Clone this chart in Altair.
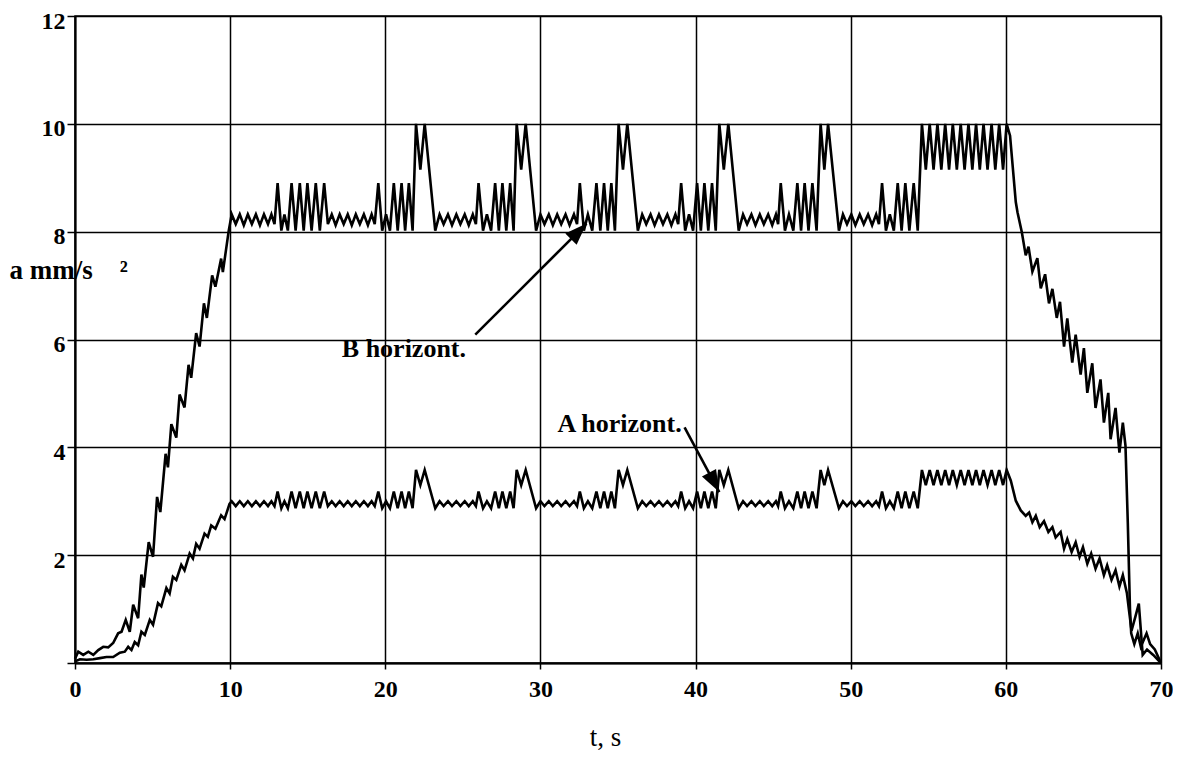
import altair as alt
import pandas as pd

# ---------------- data ----------------
# B horizont. : rising part
b_rise_t = [0.00, 0.21, 0.53, 0.86, 1.18, 1.50, 1.82, 2.14, 2.46, 2.78, 3.00, 3.27, 3.53,
            3.75, 4.07, 4.28, 4.43, 4.75, 5.03, 5.29, 5.50, 5.84, 5.99, 6.21, 6.53, 6.74,
            7.06, 7.32, 7.49, 7.81, 8.03, 8.31, 8.50, 8.84, 9.05, 9.42, 9.53, 9.91]
b_rise = [0.08, 0.21, 0.15, 0.21, 0.15, 0.24, 0.30, 0.29, 0.37, 0.55, 0.58, 0.80, 0.58,
          1.08, 0.83, 1.64, 1.40, 2.24, 1.97, 3.08, 2.80, 3.88, 3.63, 4.43, 4.18, 4.98,
          4.74, 5.53, 5.29, 6.12, 5.87, 6.67, 6.40, 7.19, 6.98, 7.50, 7.25, 8.02]

# A horizont. : rising part
a_rise_t = [0.00, 0.32, 0.75, 1.18, 1.61, 2.03, 2.46, 2.89, 3.21, 3.43, 3.64, 3.85, 4.07,
            4.28, 4.50, 4.82, 5.03, 5.35, 5.56, 5.89, 6.10, 6.31, 6.53, 6.85, 7.06, 7.39,
            7.60, 7.81, 8.03, 8.35, 8.56, 8.78, 9.05, 9.42, 9.64, 9.96]
a_rise = [0.03, 0.07, 0.06, 0.07, 0.09, 0.11, 0.11, 0.19, 0.21, 0.30, 0.24, 0.39, 0.33,
          0.58, 0.52, 0.80, 0.71, 1.11, 1.05, 1.39, 1.29, 1.60, 1.54, 1.82, 1.72, 2.03,
          1.94, 2.21, 2.12, 2.40, 2.34, 2.55, 2.49, 2.74, 2.67, 2.95]

# shared vertex times of the plateau (10 s .. 60 s)
plateau_t = [
    10.10, 10.36, 10.62, 10.88, 11.14, 11.40, 11.66, 11.92, 12.18, 12.44, 12.66, 12.86,
    13.06, 13.30, 13.50, 13.72, 13.96, 14.22, 14.49, 14.74, 14.98, 15.25, 15.52, 15.78, 16.06,
    16.30, 16.55, 16.80, 17.06, 17.32, 17.58, 17.84, 18.10, 18.36, 18.62, 18.88, 19.12, 19.32,
    19.55, 19.80, 20.05, 20.30, 20.55, 20.80, 21.05, 21.28, 21.52, 21.76, 21.98, 22.26, 22.54, 23.22,
    23.50, 23.76, 24.04, 24.30, 24.58, 24.84, 25.12, 25.38, 25.64, 25.84,
    26.01, 26.30, 26.55, 26.82, 27.08, 27.32, 27.55, 27.80, 28.05, 28.27, 28.47, 28.76, 29.05, 29.72,
    30.00, 30.26, 30.54, 30.80, 31.08, 31.34, 31.62, 31.88, 32.16, 32.36,
    32.54, 32.80, 33.06, 33.34, 33.61, 33.86, 34.10, 34.34, 34.57, 34.80, 35.04, 35.32, 35.60, 36.28,
    36.56, 36.82, 37.10, 37.36, 37.64, 37.90, 38.18, 38.44, 38.70, 38.88,
    39.07, 39.33, 39.58, 39.84, 40.10, 40.34, 40.57, 40.82, 41.06, 41.30, 41.53, 41.82, 42.11, 42.78,
    43.06, 43.32, 43.60, 43.86, 44.14, 44.40, 44.68, 44.94, 45.18, 45.32,
    45.49, 45.76, 46.02, 46.30, 46.56, 46.80, 47.03, 47.28, 47.53, 47.80, 48.06, 48.30, 48.54, 49.24,
    49.50, 49.76, 50.04, 50.30, 50.58, 50.84, 51.12, 51.38, 51.64, 51.82,
    52.02, 52.27, 52.52, 52.78, 53.03, 53.28, 53.52, 53.78, 54.06, 54.32,
    54.59, 54.84, 55.09, 55.34, 55.59, 55.84, 56.09, 56.34, 56.58, 56.84, 57.09, 57.34,
    57.59, 57.84, 58.08, 58.32, 58.56, 58.82, 59.08, 59.32, 59.57, 59.82, 60.05,
]

b_plateau = [
    8.32, 8.14, 8.32, 8.12, 8.32, 8.14, 8.32, 8.12, 8.32, 8.14, 8.32, 8.14,
    8.90, 8.02, 8.32, 8.02, 8.90, 8.02, 8.90, 8.02, 8.90, 8.02, 8.90, 8.02, 8.90,
    8.14, 8.32, 8.12, 8.32, 8.14, 8.32, 8.12, 8.32, 8.14, 8.32, 8.12, 8.32, 8.14,
    8.90, 8.02, 8.32, 8.02, 8.90, 8.02, 8.90, 8.02, 8.90, 8.02, 10.0, 9.15, 10.0, 8.02,
    8.32, 8.14, 8.32, 8.12, 8.32, 8.14, 8.32, 8.12, 8.32, 8.14,
    8.90, 8.02, 8.32, 8.02, 8.90, 8.02, 8.90, 8.02, 8.90, 8.02, 10.0, 9.15, 10.0, 8.02,
    8.32, 8.14, 8.32, 8.12, 8.32, 8.14, 8.32, 8.12, 8.32, 8.14,
    8.90, 8.02, 8.32, 8.02, 8.90, 8.02, 8.90, 8.02, 8.90, 8.02, 10.0, 9.15, 10.0, 8.02,
    8.32, 8.14, 8.32, 8.12, 8.32, 8.14, 8.32, 8.12, 8.32, 8.14,
    8.90, 8.02, 8.32, 8.02, 8.90, 8.02, 8.90, 8.02, 8.90, 8.02, 10.0, 9.15, 10.0, 8.02,
    8.32, 8.14, 8.32, 8.12, 8.32, 8.14, 8.32, 8.12, 8.32, 8.14,
    8.90, 8.02, 8.32, 8.02, 8.90, 8.02, 8.90, 8.02, 8.90, 8.02, 10.0, 9.15, 10.0, 8.02,
    8.32, 8.14, 8.32, 8.12, 8.32, 8.14, 8.32, 8.12, 8.32, 8.14,
    8.90, 8.02, 8.32, 8.02, 8.90, 8.02, 8.90, 8.02, 8.90, 8.02,
    10.0, 9.15, 10.0, 9.15, 10.0, 9.15, 10.0, 9.15, 10.0, 9.15, 10.0, 9.15,
    10.0, 9.15, 10.0, 9.15, 10.0, 9.15, 10.0, 9.15, 10.0, 9.15, 10.0,
]

a_plateau = [
    3.00, 2.91, 3.00, 2.91, 3.00, 2.91, 3.00, 2.91, 3.00, 2.91, 3.00, 2.91,
    3.18, 2.87, 3.00, 2.87, 3.18, 2.87, 3.18, 2.87, 3.18, 2.87, 3.18, 2.87, 3.18,
    2.91, 3.00, 2.91, 3.00, 2.91, 3.00, 2.91, 3.00, 2.91, 3.00, 2.91, 3.00, 2.91,
    3.18, 2.87, 3.00, 2.87, 3.18, 2.87, 3.18, 2.87, 3.18, 2.87, 3.58, 3.30, 3.58, 2.87,
    3.00, 2.91, 3.00, 2.91, 3.00, 2.91, 3.00, 2.91, 3.00, 2.91,
    3.18, 2.87, 3.00, 2.87, 3.18, 2.87, 3.18, 2.87, 3.18, 2.87, 3.58, 3.30, 3.58, 2.87,
    3.00, 2.91, 3.00, 2.91, 3.00, 2.91, 3.00, 2.91, 3.00, 2.91,
    3.18, 2.87, 3.00, 2.87, 3.18, 2.87, 3.18, 2.87, 3.18, 2.87, 3.58, 3.30, 3.58, 2.87,
    3.00, 2.91, 3.00, 2.91, 3.00, 2.91, 3.00, 2.91, 3.00, 2.91,
    3.18, 2.87, 3.00, 2.87, 3.18, 2.87, 3.18, 2.87, 3.18, 2.87, 3.58, 3.30, 3.58, 2.87,
    3.00, 2.91, 3.00, 2.91, 3.00, 2.91, 3.00, 2.91, 3.00, 2.91,
    3.18, 2.87, 3.00, 2.87, 3.18, 2.87, 3.18, 2.87, 3.18, 2.87, 3.58, 3.30, 3.58, 2.87,
    3.00, 2.91, 3.00, 2.91, 3.00, 2.91, 3.00, 2.91, 3.00, 2.91,
    3.18, 2.87, 3.00, 2.87, 3.18, 2.87, 3.18, 2.87, 3.18, 2.87,
    3.58, 3.30, 3.58, 3.30, 3.58, 3.30, 3.58, 3.30, 3.58, 3.30, 3.58, 3.30,
    3.58, 3.30, 3.58, 3.30, 3.58, 3.30, 3.58, 3.30, 3.58, 3.30, 3.58,
]

# falling parts
b_fall_t = [60.27, 60.64, 60.75, 61.03, 61.28, 61.46, 61.71, 62.03, 62.25, 62.53, 62.78,
            63.00, 63.28, 63.49, 63.75, 63.96, 64.28, 64.50, 64.82, 65.03, 65.25, 65.57,
            65.78, 66.10, 66.32, 66.60, 66.75, 67.07, 67.32, 67.54, 67.71, 67.86, 68.00,
            68.08, 68.28, 68.50, 68.70, 69.07, 69.30, 69.60, 70.00]
b_fall = [9.78, 8.55, 8.36, 7.99, 7.56, 7.72, 7.26, 7.51, 6.95, 7.21, 6.67,
          6.94, 6.40, 6.70, 5.87, 6.39, 5.57, 6.09, 5.35, 5.84, 5.01, 5.56,
          4.73, 5.26, 4.46, 5.01, 4.15, 4.73, 3.90, 4.46, 4.03, 2.60, 1.00,
          0.55, 0.35, 0.55, 0.30, 0.55, 0.35, 0.25, 0.00]

a_fall_t = [60.32, 60.64, 60.96, 61.28, 61.50, 61.71, 61.93, 62.18, 62.46, 62.74, 63.00,
            63.21, 63.53, 63.75, 63.96, 64.24, 64.50, 64.75, 64.97, 65.25, 65.50, 65.78,
            66.04, 66.32, 66.53, 66.81, 67.07, 67.32, 67.54, 67.80, 67.95, 68.10, 68.35,
            68.57, 68.82, 69.10, 69.50, 70.00]
a_fall = [3.38, 3.01, 2.83, 2.73, 2.79, 2.61, 2.73, 2.52, 2.63, 2.43, 2.52,
          2.33, 2.43, 2.12, 2.30, 2.06, 2.24, 1.97, 2.15, 1.84, 2.03, 1.75,
          1.94, 1.63, 1.81, 1.54, 1.72, 1.42, 1.63, 1.30, 0.95, 0.60, 0.86,
          1.10, 0.15, 0.25, 0.15, 0.00]

# annotations
label_text = ["B horizont.", "A horizont."]
label_t = [21.2, 35.1]
label_a = [5.82, 4.43]
arrow_t0 = [25.8, 39.29]
arrow_a0 = [6.09, 4.37]
arrow_t1 = [32.97, 41.53]
arrow_a1 = [8.15, 3.17]
arrow_angle = [45, 152]

x_ticks = [0, 10, 20, 30, 40, 50, 60, 70]
y_ticks = [0, 2, 4, 6, 8, 10, 12]

# ---------------- build tables ----------------
assert len(plateau_t) == len(b_plateau) == len(a_plateau)
b_t = b_rise_t + plateau_t + b_fall_t
b_v = b_rise + b_plateau + b_fall
a_t = a_rise_t + plateau_t + a_fall_t
a_v = a_rise + a_plateau + a_fall

lines_df = pd.concat([
    pd.DataFrame({"series": "B", "t": b_t, "a": b_v}),
    pd.DataFrame({"series": "A", "t": a_t, "a": a_v}),
], ignore_index=True)
lines_df["i"] = range(len(lines_df))

labels_df = pd.DataFrame({"txt": label_text, "t": label_t, "a": label_a})
arrows_df = pd.DataFrame({"t": arrow_t0, "a": arrow_a0, "t2": arrow_t1, "a2": arrow_a1})
heads_df = pd.DataFrame({"t": arrow_t1, "a": arrow_a1, "ang": arrow_angle})

SERIF = "Liberation Serif"

x_enc = alt.X(
    "t:Q",
    scale=alt.Scale(domain=[0, 70], nice=False, zero=False),
    axis=alt.Axis(
        values=x_ticks, title="t, s", grid=True,
        labelFont=SERIF, labelFontSize=24, labelFontWeight="bold", labelColor="black",
        labelPadding=8, labelFlush=False,
        tickSize=6, tickColor="black", tickWidth=1.5,
        titleFont=SERIF, titleFontSize=27, titleFontWeight="normal", titleColor="black",
        titleX=530, titleY=74, titleAlign="center", titleBaseline="middle",
    ),
)
y_enc = alt.Y(
    "a:Q",
    scale=alt.Scale(domain=[0, 12], nice=False),
    axis=alt.Axis(
        values=y_ticks, title="a mm/s\u2003²", grid=True,
        labelExpr="datum.value == 0 ? '' : datum.label",
        labelFont=SERIF, labelFontSize=24, labelFontWeight="bold", labelColor="black",
        labelPadding=2, labelFlush=False, labelOffset=5,
        tickSize=8, tickColor="black", tickWidth=1.5,
        titleFont=SERIF, titleFontSize=27, titleFontWeight="bold", titleColor="black",
        titleAngle=0, titleX=-66, titleY=254, titleAlign="left", titleBaseline="middle",
    ),
)

lines = alt.Chart(lines_df).mark_line(color="black", strokeWidth=2.6).encode(
    x=x_enc, y=y_enc, detail="series:N", order="i:Q"
)

rules = alt.Chart(arrows_df).mark_rule(color="black", strokeWidth=2.6).encode(
    x=x_enc, y=y_enc, x2="t2:Q", y2="a2:Q"
)

heads = alt.Chart(heads_df).mark_point(
    shape="M0,0L-0.8,2.2L0.8,2.2Z", filled=True, color="black", opacity=1, size=400
).encode(x=x_enc, y=y_enc, angle=alt.Angle("ang:Q", scale=None))

texts = alt.Chart(labels_df).mark_text(
    font=SERIF, fontSize=26, fontWeight="bold", color="black", align="center", baseline="middle"
).encode(x=x_enc, y=y_enc, text="txt:N")

chart = alt.layer(lines, rules, heads, texts).properties(
    width=1086, height=647,
    padding={"left": 67, "top": 8, "right": 12, "bottom": 89},
    autosize=alt.AutoSizeParams(type="none"),
).configure_view(
    stroke="black", strokeWidth=1.5
).configure_axis(
    gridColor="black", gridOpacity=1, gridWidth=1.5,
    domainColor="black", domainWidth=2,
)

chart.save("out.html", embed_options={"renderer": "svg", "actions": False})
